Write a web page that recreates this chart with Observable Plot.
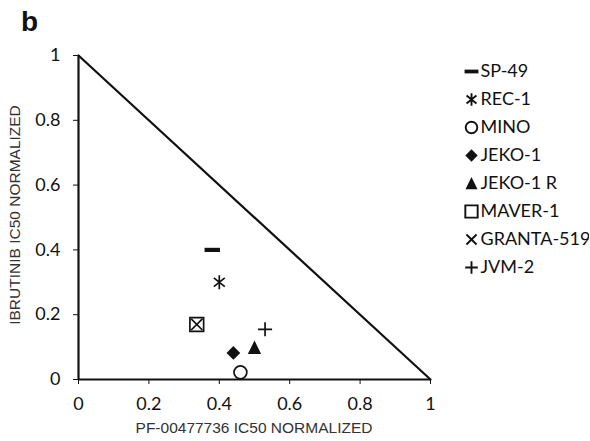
<!DOCTYPE html>
<html><head><meta charset="utf-8">
<script src="https://cdn.jsdelivr.net/npm/d3@7"></script>
<script src="https://cdn.jsdelivr.net/npm/@observablehq/plot@0.6"></script>
<style>
body{margin:0;background:#fff;}
#wrap{position:relative;width:590px;height:441px;overflow:hidden;background:#fff;}
#wrap > *{position:absolute;}
.t{font-family:"Liberation Sans",Arial,sans-serif;white-space:nowrap;line-height:1;}
#panel{left:21px;top:8px;font-size:28px;font-weight:bold;color:#111;}
#xt{left:254px;top:420px;font-size:15.5px;color:#333;transform:translateX(-50%);}
#yt{left:15px;top:215px;font-size:15.5px;color:#333;transform:translate(-50%,-50%) rotate(-90deg);}
</style>
</head><body>
<div id="wrap">
  <div id="panel" class="t">b</div>
  <div id="xt" class="t">PF-00477736 IC50 NORMALIZED</div>
  <div id="yt" class="t">IBRUTINIB IC50 NORMALIZED</div>
</div>
<script>
// ---- data ----
const cellLines = ["SP-49", "REC-1", "MINO", "JEKO-1", "JEKO-1 R", "MAVER-1", "GRANTA-519", "JVM-2"];
const pfIC50 = [0.38, 0.40, 0.46, 0.44, 0.50, 0.336, 0.336, 0.53];
const ibrutinibIC50 = [0.40, 0.30, 0.022, 0.082, 0.098, 0.17, 0.17, 0.155];
const xTicks = [0, 0.2, 0.4, 0.6, 0.8, 1];
const xTickLabels = ["0", "0.2", "0.4", "0.6", "0.8", "1"];
const yTicks = [0, 0.2, 0.4, 0.6, 0.8, 1];
const yTickLabels = ["0", "0.2", "0.4", "0.6", "0.8", "1"];
const diagX = [0, 1];
const diagY = [1, 0];

// ---- symbols ----
const R = s => Math.sqrt(s / Math.PI);
const symbols = {
  dash: {draw(c, s){ const r = R(s); c.rect(-r*1.1, -r*0.3, r*2.2, r*0.6); }},
  asterisk: {draw(c, s){ const r = R(s);
    for (const a of [0, 0.9, Math.PI - 0.9]) { c.moveTo(r*Math.sin(a), -r*Math.cos(a)); c.lineTo(-r*Math.sin(a), r*Math.cos(a)); } }},
  circle: {draw(c, s){ const r = R(s)*0.92; c.moveTo(r, 0); c.arc(0, 0, r, 0, 2*Math.PI); }},
  diamond: {draw(c, s){ const r = R(s)*0.98; c.moveTo(0,-r); c.lineTo(r,0); c.lineTo(0,r); c.lineTo(-r,0); c.closePath(); }},
  triangle: {draw(c, s){ const r = R(s); c.moveTo(0,-r*1.05); c.lineTo(r*0.95, r*0.9); c.lineTo(-r*0.95, r*0.9); c.closePath(); }},
  square: {draw(c, s){ const r = R(s)*0.98; c.rect(-r, -r, 2*r, 2*r); }},
  times: {draw(c, s){ const r = R(s)*0.8; c.moveTo(-r,-r); c.lineTo(r,r); c.moveTo(r,-r); c.lineTo(-r,r); }},
  plus: {draw(c, s){ const r = R(s); c.moveTo(-r,0); c.lineTo(r,0); c.moveTo(0,-r); c.lineTo(0,r); }}
};
const symbolOf = {"SP-49":"dash","REC-1":"asterisk","MINO":"circle","JEKO-1":"diamond","JEKO-1 R":"triangle","MAVER-1":"square","GRANTA-519":"times","JVM-2":"plus"};
const filled = new Set(["dash","diamond","triangle"]);
const styleOf = (name, sw) => {
  const k = symbolOf[name];
  return filled.has(k) ? {fill: "#111", stroke: "none"} : {fill: "none", stroke: "#111", strokeWidth: sw};
};

const points = cellLines.map((name, i) => ({name, x: pfIC50[i], y: ibrutinibIC50[i]}));
const diag = diagX.map((x, i) => ({x, y: diagY[i]}));
const fmt = (ticks, labels) => d => labels[ticks.findIndex(t => Math.abs(t - d) < 1e-9)] ?? "";

const chart = Plot.plot({
  width: 590, height: 441,
  marginTop: 55, marginBottom: 62, marginLeft: 78, marginRight: 160,
  style: {fontFamily: "Lato, sans-serif", fontSize: "18px", color: "#111", background: "transparent"},
  x: {domain: [0, 1], ticks: xTicks, tickFormat: fmt(xTicks, xTickLabels), tickSize: 5, tickPadding: 13, label: null},
  y: {domain: [0, 1], ticks: yTicks, tickFormat: fmt(yTicks, yTickLabels), tickSize: 5, tickPadding: 13, label: null},
  marks: [
    Plot.ruleX([0], {stroke: "#111", strokeWidth: 2.2}),
    Plot.ruleY([0], {stroke: "#111", strokeWidth: 2.2}),
    Plot.line(diag, {x: "x", y: "y", stroke: "#111", strokeWidth: 2.2}),
    ...points.map(p => Plot.dot([p], {x: "x", y: "y", r: 7, symbol: symbols[symbolOf[p.name]], ...styleOf(p.name, 1.7)}))
  ]
});
chart.style.left = "0px"; chart.style.top = "0px";
document.getElementById("wrap").appendChild(chart);

const legend = Plot.plot({
  width: 130, height: 300,
  marginLeft: 12, marginRight: 0, marginTop: 0, marginBottom: 0,
  style: {fontFamily: "Lato, sans-serif", fontSize: "18px", color: "#111", background: "transparent"},
  x: {axis: null},
  y: {type: "point", domain: cellLines, range: [69, 268], padding: 0, axis: null},
  marks: [
    ...cellLines.map(n => Plot.dot([n], {y: d => d, frameAnchor: "left", r: 6.3, symbol: symbols[symbolOf[n]], ...styleOf(n, 1.9)})),
    Plot.text(cellLines, {y: d => d, text: d => d, frameAnchor: "left", dx: 9, textAnchor: "start", fill: "#111"})
  ]
});
legend.style.left = "459px"; legend.style.top = "0px";
document.getElementById("wrap").appendChild(legend);
</script>
</body></html>
